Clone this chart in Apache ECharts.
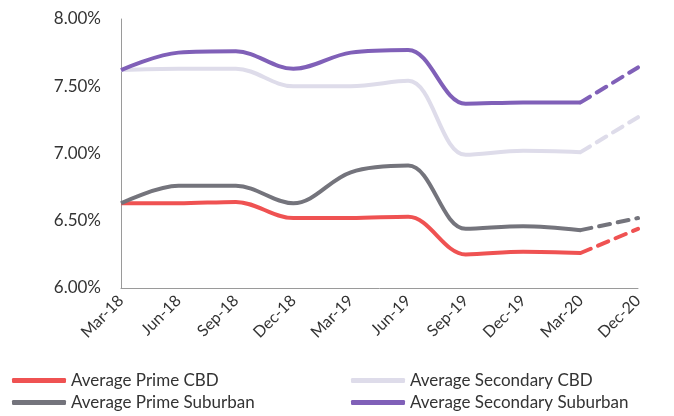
<!DOCTYPE html>
<html>
<head>
<meta charset="utf-8">
<script src="https://cdn.jsdelivr.net/npm/echarts@6/dist/echarts.min.js"></script>
<style>
  html, body { margin: 0; padding: 0; background: #fff; }
  #chart { width: 674px; height: 416px; }
</style>
</head>
<body>
<div id="chart"></div>
<script>
// Quarterly average yields (%), with a projected value for Dec-20
const categories = ['Mar-18', 'Jun-18', 'Sep-18', 'Dec-18', 'Mar-19', 'Jun-19', 'Sep-19', 'Dec-19', 'Mar-20', 'Dec-20'];
const primeCBD = [6.63, 6.63, 6.64, 6.52, 6.52, 6.53, 6.25, 6.27, 6.26, 6.44];
const secondaryCBD = [7.62, 7.63, 7.63, 7.50, 7.50, 7.54, 6.99, 7.02, 7.01, 7.27];
const primeSuburban = [6.63, 6.76, 6.76, 6.63, 6.86, 6.91, 6.44, 6.46, 6.43, 6.52];
const secondarySuburban = [7.62, 7.75, 7.76, 7.63, 7.75, 7.77, 7.37, 7.38, 7.38, 7.64];
const yTicks = [6.0, 6.5, 7.0, 7.5, 8.0];

// Index from which values are forecasts (drawn dashed)
const forecastFrom = 8;

const seriesDefs = [
  { name: 'Average Prime CBD', data: primeCBD, color: '#ef5252' },
  { name: 'Average Secondary CBD', data: secondaryCBD, color: '#dedcea' },
  { name: 'Average Prime Suburban', data: primeSuburban, color: '#74747c' },
  { name: 'Average Secondary Suburban', data: secondarySuburban, color: '#8060b8' }
];

const series = [];
seriesDefs.forEach(function (d) {
  // Actuals: solid smooth line
  series.push({
    name: d.name,
    type: 'line',
    smooth: 0.35,
    symbol: 'none',
    data: d.data.map(function (v, i) { return i <= forecastFrom ? v : '-'; }),
    lineStyle: { color: d.color, width: 4 },
    itemStyle: { color: d.color },
    z: 3
  });
  // Forecast: dashed segment
  series.push({
    name: d.name + ' (f)',
    type: 'line',
    symbol: 'none',
    data: d.data.map(function (v, i) { return i >= forecastFrom ? v : '-'; }),
    lineStyle: { color: d.color, width: 4, type: [11, 8], cap: 'round' },
    itemStyle: { color: d.color },
    z: 3
  });
});

const legendText = { color: '#333333', fontSize: 17, fontFamily: 'Lato, "Open Sans", sans-serif' };

// One legend entry per component so each can sit in its own grid cell
function legendItem(name, left, top) {
  return {
    data: [name],
    left: left, top: top,
    padding: 0,
    itemWidth: 54, itemHeight: 5,
    icon: 'roundRect',
    textStyle: legendText
  };
}

const chart = echarts.init(document.getElementById('chart'));
chart.setOption({
  animation: false,
  backgroundColor: '#ffffff',
  grid: { left: 121, right: 36, top: 19, bottom: 128 },
  legend: [
    legendItem('Average Prime CBD', 12, 372),
    legendItem('Average Prime Suburban', 12, 394),
    legendItem('Average Secondary CBD', 351, 372),
    legendItem('Average Secondary Suburban', 351, 394)
  ],
  xAxis: {
    type: 'category',
    data: categories,
    boundaryGap: false,
    axisLine: { lineStyle: { color: '#9a9a9a', width: 1 } },
    axisTick: { show: false },
    axisLabel: {
      rotate: 45,
      interval: 0,
      margin: 10,
      color: '#333333',
      fontSize: 16,
      fontFamily: 'Lato, "Open Sans", sans-serif'
    },
    splitLine: { show: false }
  },
  yAxis: {
    type: 'value',
    min: yTicks[0],
    max: yTicks[yTicks.length - 1],
    interval: 0.5,
    axisLine: { show: true, lineStyle: { color: '#9a9a9a', width: 1 } },
    axisTick: { show: false },
    splitLine: { show: false },
    axisLabel: {
      margin: 20,
      color: '#333333',
      fontSize: 17,
      fontFamily: 'Lato, "Open Sans", sans-serif',
      formatter: function (v) { return v.toFixed(2) + '%'; }
    }
  },
  series: series
});
</script>
</body>
</html>
